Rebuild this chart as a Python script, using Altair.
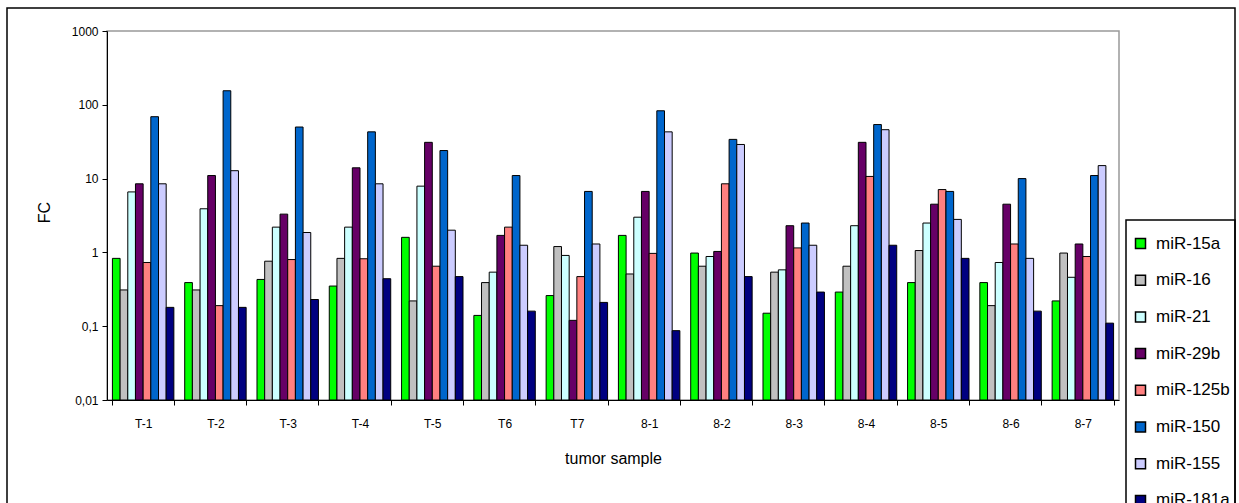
import altair as alt
import pandas as pd

samples = ["T-1", "T-2", "T-3", "T-4", "T-5", "T6", "T7",
           "8-1", "8-2", "8-3", "8-4", "8-5", "8-6", "8-7"]
series = ["miR-15a", "miR-16", "miR-21", "miR-29b",
          "miR-125b", "miR-150", "miR-155", "miR-181a"]
colors = ["#00FF00", "#C0C0C0", "#CCFFFF", "#660066",
          "#FF8080", "#0066CC", "#CCCCFF", "#000080"]

mir15a = [0.83, 0.39, 0.43, 0.35, 1.6, 0.14, 0.26, 1.7, 0.98, 0.15, 0.29, 0.39, 0.39, 0.22]
mir16 = [0.31, 0.31, 0.76, 0.83, 0.22, 0.39, 1.2, 0.51, 0.65, 0.54, 0.65, 1.06, 0.19, 0.98]
mir21 = [6.6, 3.9, 2.2, 2.2, 7.9, 0.54, 0.91, 3.0, 0.88, 0.58, 2.3, 2.5, 0.73, 0.46]
mir29b = [8.5, 11, 3.3, 14, 31, 1.7, 0.12, 6.7, 1.03, 2.3, 31, 4.5, 4.5, 1.3]
mir125b = [0.73, 0.19, 0.8, 0.82, 0.65, 2.2, 0.47, 0.97, 8.5, 1.15, 10.7, 7.1, 1.3, 0.88]
mir150 = [69, 155, 50, 43, 24, 11, 6.7, 83, 34, 2.5, 54, 6.7, 10, 11]
mir155 = [8.5, 12.8, 1.86, 8.5, 2.0, 1.25, 1.3, 43, 29, 1.25, 46, 2.8, 0.83, 15]
mir181a = [0.18, 0.18, 0.23, 0.44, 0.47, 0.16, 0.21, 0.087, 0.47, 0.29, 1.25, 0.83, 0.16, 0.11]

values = [mir15a, mir16, mir21, mir29b, mir125b, mir150, mir155, mir181a]
rows = []
for s, vals in zip(series, values):
    for smp, v in zip(samples, vals):
        rows.append({"sample": smp, "series": s, "value": v})
df = pd.DataFrame(rows)

FONT = "Liberation Sans"
W, H = 1012, 369

frame = alt.Chart(pd.DataFrame({"a": [0]})).mark_rect(
    fillOpacity=0, stroke="black", strokeWidth=1.5
).encode(x=alt.value(-100), x2=alt.value(1128), y=alt.value(-23), y2=alt.value(520))

legbox = alt.Chart(pd.DataFrame({"a": [0]})).mark_rect(
    fillOpacity=0, stroke="black", strokeWidth=1.5
).encode(x=alt.value(1019), x2=alt.value(1128), y=alt.value(189), y2=alt.value(520))

bars = alt.Chart(df).mark_bar(stroke="black", strokeWidth=1).encode(
    x=alt.X("sample:N", sort=samples,
            scale=alt.Scale(paddingInner=0.15, paddingOuter=0.075),
            axis=alt.Axis(title="tumor sample", labelAngle=0, tickBand="extent",
                          tickSize=5, labelPadding=13, labelFontSize=12,
                          labelFont=FONT, labelColor="black",
                          domainColor="black", tickColor="black", zindex=2,
                          titleFont=FONT, titleFontSize=16, titleFontWeight="normal",
                          titleColor="black", titleY=58, titleBaseline="middle")),
    xOffset=alt.XOffset("series:N", sort=series,
                        scale=alt.Scale(paddingInner=0, paddingOuter=0)),
    y=alt.Y("value:Q",
            scale=alt.Scale(type="log", domain=[0.01, 1000]),
            axis=alt.Axis(title="FC", values=[0.01, 0.1, 1, 10, 100, 1000],
                          labelExpr="datum.value >= 1 ? format(datum.value, 'd') : replace(toString(datum.value), '.', ',')",
                          grid=False, tickSize=5, labelPadding=4, labelFontSize=12,
                          labelFont=FONT, labelColor="black",
                          domainColor="black", tickColor="black", zindex=2,
                          titleFont=FONT, titleFontSize=16, titleFontWeight="normal",
                          titleColor="black", titleX=-63, titleY=181,
                          titleAlign="center", titleBaseline="middle", titleAngle=-90)),
    y2=alt.datum(0.01),
    color=alt.Color("series:N", sort=series,
                    scale=alt.Scale(domain=series, range=colors),
                    legend=alt.Legend(title=None, orient="none", legendX=1025, legendY=204,
                                      symbolType="square", symbolSize=100,
                                      symbolStrokeColor="black", symbolStrokeWidth=1.5,
                                      labelFont=FONT, labelFontSize=17, labelColor="black",
                                      labelOffset=7, rowPadding=18.7, padding=0)),
)

chart = alt.layer(frame, legbox, bars).properties(
    width=W, height=H,
    padding={"left": 107, "top": 31, "right": 1239 - 107 - W, "bottom": 503 - 31 - H},
    autosize=alt.AutoSizeParams(type="none"),
    background="white",
).configure_view(stroke="#999999", strokeWidth=1.5)

chart.save("out.html", embed_options={"renderer": "svg", "actions": False})
